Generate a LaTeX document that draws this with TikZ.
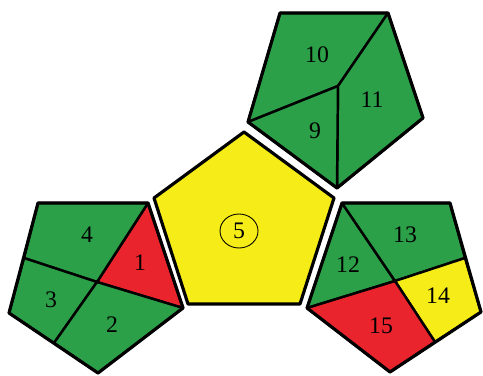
\documentclass[tikz,border=0pt]{standalone}
\usepackage{fontspec}
\setmainfont{Liberation Serif}
\begin{document}
\begin{tikzpicture}[x=0.02cm, y=-0.02cm, line join=round]
		\tikzstyle{every node}=[font=\fontsize{13.5pt}{16pt}\selectfont]
		\tikzset{
			greenpart/.style={draw, fill={rgb,255:red,44; green,160; blue,72}, line width=1.4pt},
			redpart/.style={draw, fill={rgb,255:red,234; green,36; blue,44}, line width=1.4pt},
			yellowpart/.style={draw, fill={rgb,255:red,246; green,236; blue,24}, line width=1.4pt},
			rim/.style={draw, line width=1.8pt}
		}
		
		\useasboundingbox[fill=white] (0,0) rectangle (483,375);
		
		% centre
		\draw[yellowpart, rim] (244,132) -- (334,198) -- (300,304) -- (188,304) -- (154,198) -- cycle;
		\draw[line width=0.5pt] (239,231) ellipse (19 and 17);
		\node (n5) at (239,231) {5};
		
		% top
		\coordinate (ti) at (338,86);
		\draw[greenpart] (ti) -- (248,122) -- (280,13) -- (388,13) -- cycle;
		\draw[greenpart] (ti) -- (388,13) -- (423,118) -- (337,188) -- cycle;
		\draw[greenpart] (ti) -- (337,188) -- (248,122) -- cycle;
		\draw[rim] (280,13) -- (388,13) -- (423,118) -- (337,188) -- (248,122) -- cycle;
		\node (n10) at (317,55) {10};
		\node (n11) at (372,100) {11};
		\node (n9) at (315,131) {9};
		
		% left
		\coordinate (li) at (97,282);
		\draw[redpart] (li) -- (148,203) -- (183,308) -- cycle;
		\draw[greenpart] (li) -- (24,258) -- (38,203) -- (148,203) -- cycle;
		\draw[greenpart] (li) -- (54,343) -- (9,313) -- (24,258) -- cycle;
		\draw[greenpart] (li) -- (183,308) -- (98,373) -- (54,343) -- cycle;
		\draw[rim] (38,203) -- (148,203) -- (183,308) -- (98,373) -- (9,313) -- cycle;
		\node (n4) at (87,235) {4};
		\node (n1) at (140,263) {1};
		\node (n3) at (51,300) {3};
		\node (n2) at (112,325) {2};
		
		% right
		\coordinate (ri) at (395,281);
		\draw[greenpart] (ri) -- (342,203) -- (307,308) -- cycle;
		\draw[greenpart] (ri) -- (342,203) -- (450,203) -- (465,258) -- cycle;
		\draw[yellowpart] (ri) -- (465,258) -- (481,312) -- (435,342) -- cycle;
		\draw[redpart] (ri) -- (435,342) -- (390,372) -- (307,308) -- cycle;
		\draw[rim] (342,203) -- (450,203) -- (481,312) -- (390,372) -- (307,308) -- cycle;
		\node (n13) at (405,235) {13};
		\node (n12) at (348,265) {12};
		\node (n14) at (438,296) {14};
		\node (n15) at (381,326) {15};
		
	\end{tikzpicture}
\end{document}
